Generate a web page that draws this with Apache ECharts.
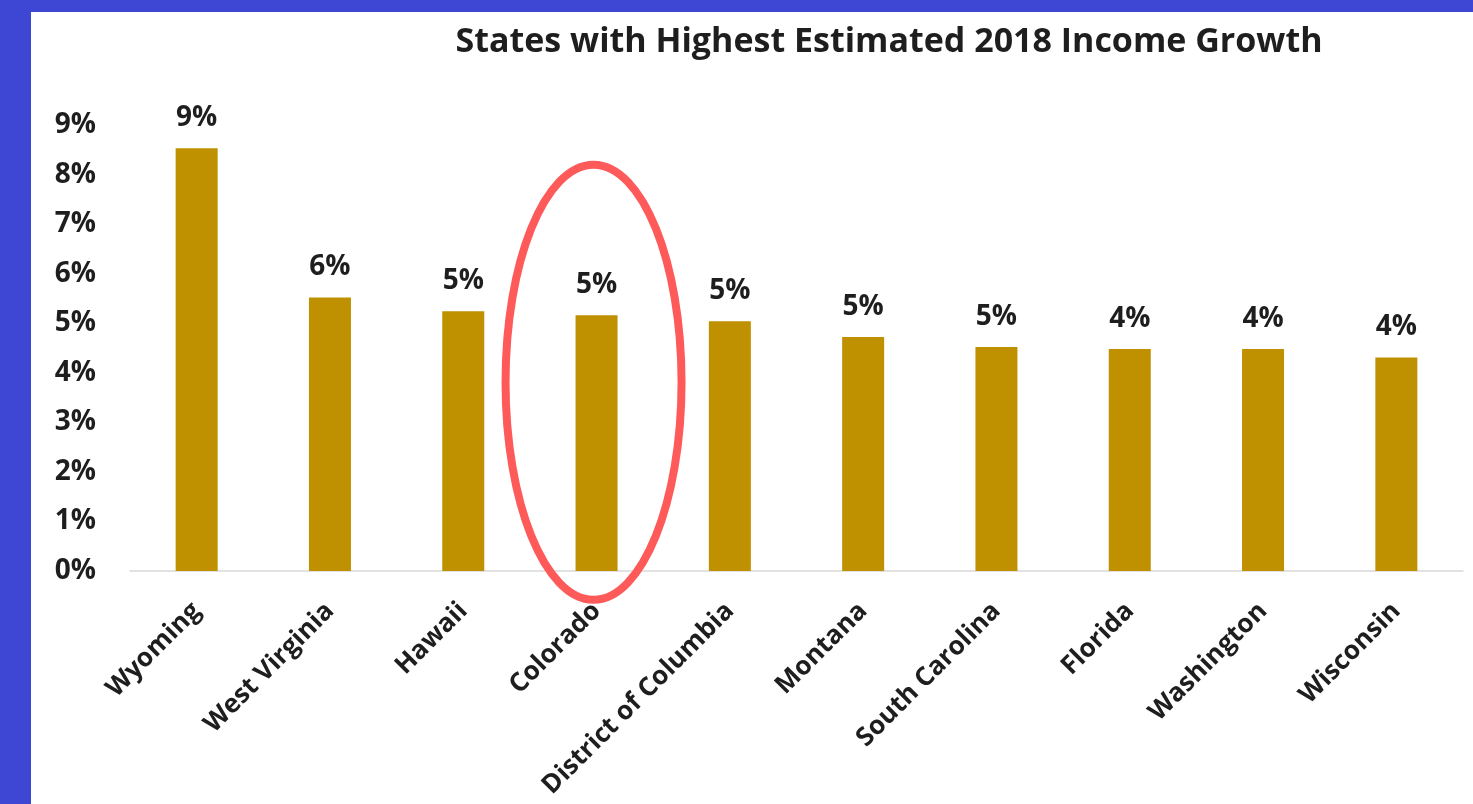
<!DOCTYPE html>
<html>
<head>
<meta charset="utf-8">
<script src="https://cdn.jsdelivr.net/npm/echarts@6/dist/echarts.min.js"></script>
<style>
  html, body { margin: 0; padding: 0; width: 1473px; height: 804px; background: #3d47d4; overflow: hidden; }
  #chart { position: absolute; left: 31px; top: 12px; width: 1442px; height: 792px; background: #ffffff; }
</style>
</head>
<body>
<div id="chart"></div>
<script>
// Estimated 2018 personal income growth, percent
const states = ['Wyoming', 'West Virginia', 'Hawaii', 'Colorado', 'District of Columbia',
  'Montana', 'South Carolina', 'Florida', 'Washington', 'Wisconsin'];
const growth = [8.53, 5.52, 5.24, 5.16, 5.04, 4.72, 4.52, 4.48, 4.48, 4.31];
const yTicks = [0, 1, 2, 3, 4, 5, 6, 7, 8, 9];
const highlighted = 'Colorado';

const fontFamily = '"Open Sans", "Noto Sans", sans-serif';
const chart = echarts.init(document.getElementById('chart'));

chart.setOption({
  animation: false,
  title: {
    text: 'States with Highest Estimated 2018 Income Growth',
    left: 853, top: 8, textAlign: 'center',
    textStyle: { fontFamily, fontSize: 34, fontWeight: 'bold', color: '#1e1e1e' }
  },
  grid: { left: 99, right: 10, top: 113, bottom: 233 },
  xAxis: {
    type: 'category',
    data: states,
    axisLine: { lineStyle: { color: '#d9d9d9', width: 1.5 } },
    axisTick: { show: false },
    axisLabel: {
      rotate: 45, interval: 0, margin: 36,
      fontFamily, fontSize: 26, fontWeight: 'bold', color: '#1e1e1e'
    }
  },
  yAxis: {
    type: 'value',
    min: yTicks[0], max: yTicks[yTicks.length - 1], interval: 1,
    splitLine: { show: false },
    axisLine: { show: false },
    axisTick: { show: false },
    axisLabel: {
      margin: 34, formatter: v => v + '%',
      fontFamily, fontSize: 28, fontWeight: 'bold', color: '#1e1e1e'
    }
  },
  series: [{
    type: 'bar',
    data: growth,
    barWidth: 42,
    itemStyle: { color: '#bf9000' },
    label: {
      show: true, position: 'top', distance: 16,
      formatter: p => Math.round(p.value) + '%',
      fontFamily, fontSize: 28, fontWeight: 'bold', color: '#1e1e1e'
    }
  }]
});

// Red ellipse circling the highlighted state's bar
const idx = states.indexOf(highlighted);
const [cx] = chart.convertToPixel({ seriesIndex: 0 }, [idx, 0]);
const yTop = chart.convertToPixel({ seriesIndex: 0 }, [idx, 8.2])[1];
const yBottom = chart.convertToPixel({ seriesIndex: 0 }, [idx, -0.58])[1];
chart.setOption({
  graphic: [{
    type: 'ellipse',
    shape: { cx: cx - 3, cy: (yTop + yBottom) / 2, rx: 88, ry: (yBottom - yTop) / 2 },
    style: { fill: 'none', stroke: '#ff5a5a', lineWidth: 8 },
    z: 10
  }]
});
</script>
</body>
</html>
